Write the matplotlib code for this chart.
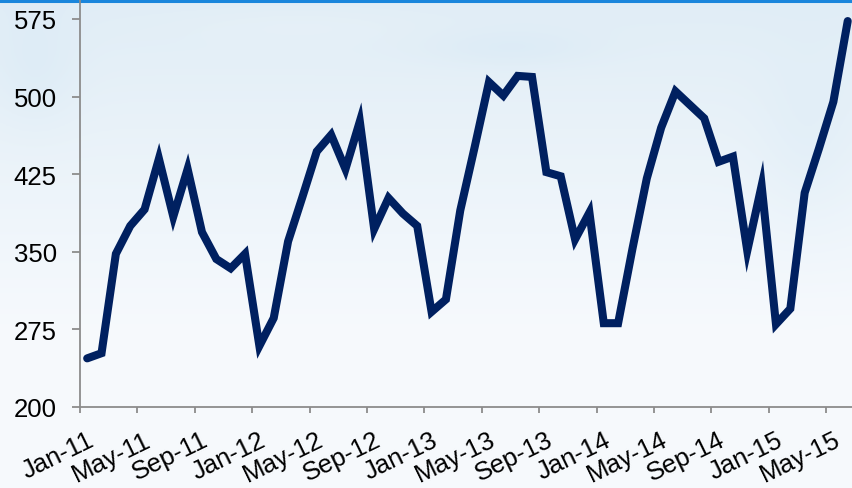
import numpy as np
import matplotlib
matplotlib.use("Agg")
import matplotlib.pyplot as plt
from matplotlib import transforms

# Monthly series, Jan-11 through Jun-15
months = ["Jan-11", "Feb-11", "Mar-11", "Apr-11", "May-11", "Jun-11", "Jul-11", "Aug-11",
          "Sep-11", "Oct-11", "Nov-11", "Dec-11",
          "Jan-12", "Feb-12", "Mar-12", "Apr-12", "May-12", "Jun-12", "Jul-12", "Aug-12",
          "Sep-12", "Oct-12", "Nov-12", "Dec-12",
          "Jan-13", "Feb-13", "Mar-13", "Apr-13", "May-13", "Jun-13", "Jul-13", "Aug-13",
          "Sep-13", "Oct-13", "Nov-13", "Dec-13",
          "Jan-14", "Feb-14", "Mar-14", "Apr-14", "May-14", "Jun-14", "Jul-14", "Aug-14",
          "Sep-14", "Oct-14", "Nov-14", "Dec-14",
          "Jan-15", "Feb-15", "Mar-15", "Apr-15", "May-15", "Jun-15"]
values = [247, 252, 348, 375, 391, 440, 384, 430, 369, 343, 334, 348,
          259, 286, 360, 403, 447, 463, 430, 476, 372, 402, 387, 375,
          292, 304, 390, 451, 514, 501, 520, 519, 427, 423, 362, 388,
          281, 281, 353, 421, 470, 505, 492, 479, 437, 442, 351, 414,
          280, 295, 407, 450, 495, 573]

y_ticks = [200, 275, 350, 425, 500, 575]
x_label_idx = list(range(0, len(months), 4))

W, H = 852, 489
fig = plt.figure(figsize=(W / 100, H / 100), dpi=100)

# soft sky-like backdrop
bg = fig.add_axes([0, 0, 1, 1], zorder=0)
bg.set_axis_off()
yy, xx = np.mgrid[0:1:200j, 0:1:300j]
top = np.array([0.88, 0.93, 0.965])
bottom = np.array([0.965, 0.978, 0.992])
t = np.clip(yy * 1.5, 0, 1)[..., None]
img = top * (1 - t) + bottom * t
# faint cloudy patches
for cx, cy, sx, sy, a in [(0.6, 0.1, 0.1, 0.04, 0.04), (0.95, 0.3, 0.06, 0.18, 0.04),
                          (0.04, 0.15, 0.05, 0.12, 0.04), (0.35, 0.05, 0.15, 0.04, -0.02)]:
    g = np.exp(-(((xx - cx) / sx) ** 2 + ((yy - cy) / sy) ** 2))[..., None]
    img = img - a * g * np.array([0.6, 0.3, 0.1])
img = np.clip(img, 0, 1)
bg.imshow(img, extent=[0, 1, 0, 1], origin="upper", aspect="auto")
bg.set_xlim(0, 1)
bg.set_ylim(0, 1)
bg.axhline(1 - 1.5 / H, color="#1a86dc", lw=2.2)

px_per_month = 14.35
left = 80 / W
ax_w = (W - 80) / W
ax = fig.add_axes([left, 81 / H, ax_w, 408 / H], zorder=1)
ax.patch.set_alpha(0)

x = np.arange(len(values))
ax.plot(x, values, color="#002060", lw=5.8, solid_joinstyle="miter",
        solid_capstyle="round", clip_on=False)

ax.set_xlim(-0.5, -0.5 + (W - 80) / px_per_month)
ax.set_ylim(200, 200 + 408 / 1.0347)

for s in ["top", "right"]:
    ax.spines[s].set_visible(False)
for s in ["left", "bottom"]:
    ax.spines[s].set_color("#8c8c8c")
    ax.spines[s].set_linewidth(1.3)

font = "Liberation Sans"
ax.set_yticks(y_ticks)
ax.set_yticklabels([str(v) for v in y_ticks], fontsize=18.5, family=font, color="#000000")
ax.tick_params(axis="y", direction="out", length=5.8, width=1.3, color="#8c8c8c", pad=11)

tick_pos = [i - 0.5 for i in x_label_idx]
ax.set_xticks(tick_pos)
ax.set_xticklabels([months[i] for i in x_label_idx], fontsize=18.5, family=font,
                   color="#000000", rotation=26, ha="right", va="top",
                   rotation_mode="anchor")
ax.tick_params(axis="x", direction="out", length=4.5, width=1.3, color="#8c8c8c", pad=10)
offset = transforms.ScaledTranslation(7 / 100, 0, fig.dpi_scale_trans)
for lbl in ax.get_xticklabels():
    lbl.set_transform(lbl.get_transform() + offset)

fig.savefig("out.png", dpi=100)
